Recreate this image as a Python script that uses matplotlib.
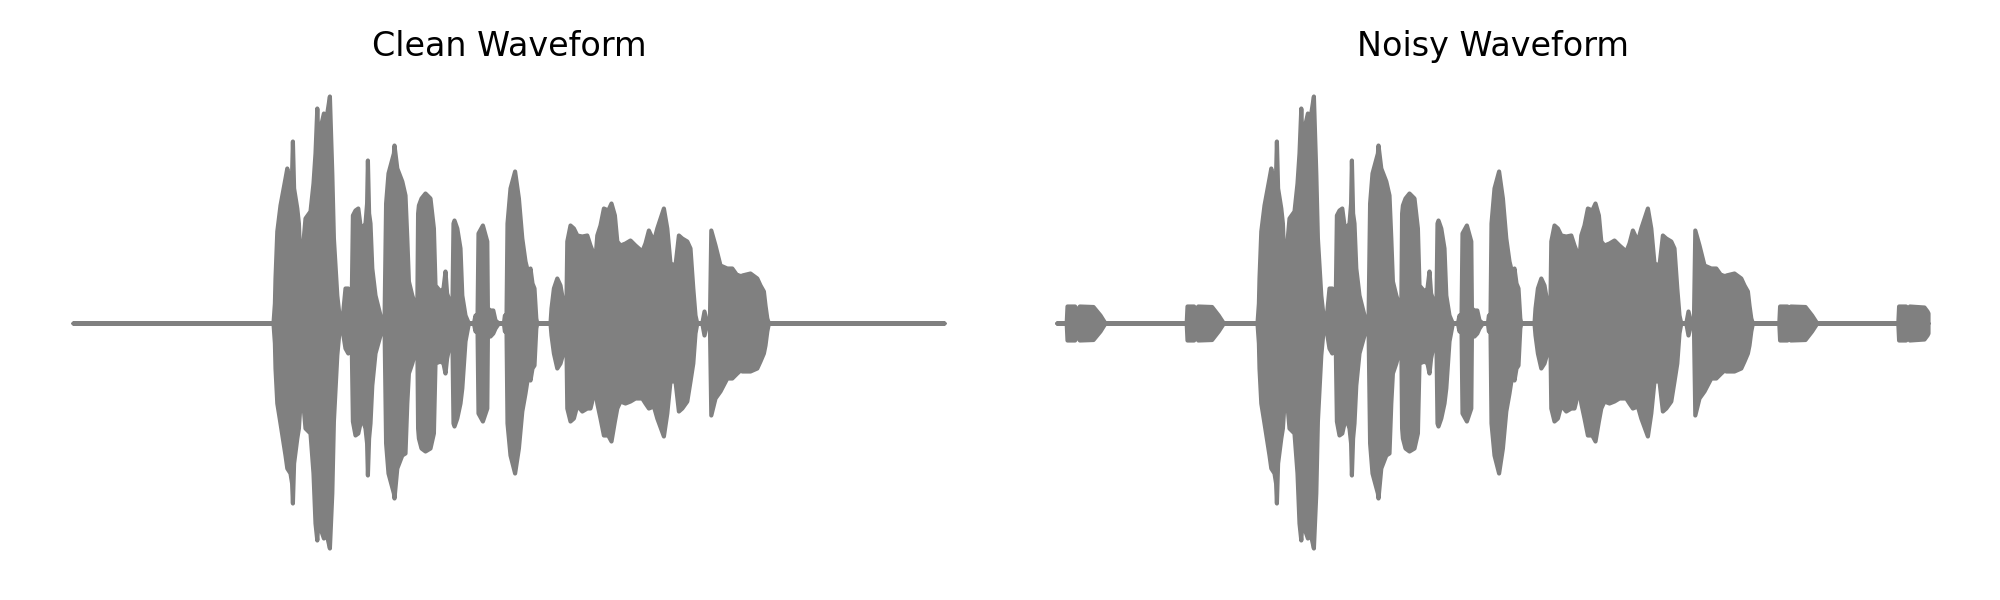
import numpy as np
import matplotlib
matplotlib.use("Agg")
import matplotlib.pyplot as plt

# ---- data: amplitude envelope of the waveforms (time in s, normalized amplitude) ----
clean_t = [0.000, 1.000, 1.007, 1.010, 1.019, 1.035, 1.060, 1.069, 1.085, 1.093,
           1.097, 1.103, 1.119, 1.127, 1.135, 1.140, 1.147, 1.160, 1.185, 1.200,
           1.210, 1.219, 1.225, 1.235, 1.252, 1.265, 1.282, 1.294, 1.302, 1.319,
           1.330, 1.340, 1.348, 1.360, 1.374, 1.383, 1.390, 1.397, 1.410, 1.424,
           1.435, 1.444, 1.460, 1.468, 1.472, 1.478, 1.485, 1.494, 1.510, 1.535,
           1.555, 1.563, 1.575, 1.602, 1.605, 1.619, 1.644, 1.660, 1.669, 1.677,
           1.694, 1.710, 1.719, 1.723, 1.727, 1.740, 1.760, 1.785, 1.802, 1.810,
           1.835, 1.850, 1.860, 1.868, 1.885, 1.894, 1.900, 1.905, 1.919, 1.935,
           1.944, 1.960, 1.977, 2.002, 2.010, 2.020, 2.025, 2.047, 2.069, 2.072,
           2.085, 2.099, 2.110, 2.127, 2.152, 2.157, 2.165, 2.170, 2.185, 2.208,
           2.227, 2.244, 2.260, 2.277, 2.285, 2.295, 2.305, 2.314, 2.319, 2.385,
           2.390, 2.402, 2.419, 2.435, 2.452, 2.457, 2.464, 2.469, 2.485, 2.502,
           2.519, 2.544, 2.569, 2.585, 2.610, 2.619, 2.635, 2.652, 2.674, 2.690,
           2.707, 2.719, 2.735, 2.760, 2.785, 2.810, 2.844, 2.860, 2.877, 2.902,
           2.919, 2.952, 2.969, 2.985, 3.010, 3.027, 3.044, 3.069, 3.085, 3.099,
           3.110, 3.119, 3.144, 3.155, 3.169, 3.182, 3.189, 3.210, 3.235, 3.269,
           3.294, 3.319, 3.330, 3.335, 3.344, 3.385, 3.419, 3.435, 3.452, 3.460,
           3.469, 3.477, 4.355]

clean_upper = [0, 0, .08, .18, .368, .472, .58, .62, .56, .60,
               .728, .54, .46, .40, .232, .22, .30, .42, .448, .56,
               .68, .86, .72, .78, .84, .82, .908, .60, .34, .112,
               .032, 0, .04, .14, .14, .06, .02, .432, .452, .46,
               .392, .38, .40, .48, .652, .44, .40, .22, .112, .032,
               0, .48, .60, .68, .712, .62, .568, .512, .34, .168,
               .112, .072, .06, .44, .472, .50, .52, .50, .38, .152,
               .128, .14, .208, .12, .08, .032, .40, .412, .38, .30,
               .112, .032, 0, 0, .032, .012, .36, .392, .328, .06,
               .052, .052, .012, 0, 0, .032, .02, .40, .54, .608,
               .50, .34, .248, .192, .22, .16, .14, .02, 0, 0,
               .06, .14, .18, .152, .072, .04, .04, .328, .392, .38,
               .352, .348, .352, .312, .26, .352, .392, .46, .452, .48,
               .432, .328, .312, .32, .332, .312, .288, .32, .372, .328,
               .38, .46, .38, .24, .232, .352, .34, .328, .30, .14,
               .032, 0, 0, .048, 0, 0, .372, .312, .232, .22,
               .22, .192, .192, .08, .192, .20, .18, .152, .128, .072,
               .02, 0, 0]

clean_lower = [0, 0, .08, .18, .32, .40, .528, .58, .60, .64,
               .72, .56, .46, .42, .32, .232, .30, .42, .44, .60,
               .80, .868, .78, .82, .86, .84, .90, .68, .392, .128,
               .032, 0, .04, .10, .12, .048, .02, .392, .448, .44,
               .40, .38, .42, .48, .608, .46, .40, .248, .12, .048,
               0, .48, .60, .68, .70, .58, .528, .52, .32, .20,
               .16, .112, .06, .42, .46, .50, .512, .50, .44, .16,
               .152, .16, .20, .14, .072, .032, .40, .412, .38, .32,
               .26, .072, 0, 0, .032, .012, .36, .392, .34, .052,
               .052, .04, .02, 0, 0, .032, .02, .40, .528, .60,
               .50, .352, .28, .192, .228, .18, .168, .02, 0, 0,
               .048, .12, .18, .16, .112, .072, .04, .34, .392, .38,
               .328, .352, .34, .34, .26, .32, .38, .448, .448, .472,
               .392, .34, .312, .32, .312, .30, .30, .32, .34, .332,
               .38, .452, .36, .232, .232, .352, .34, .312, .232, .16,
               .04, 0, 0, .048, 0, 0, .368, .30, .272, .22,
               .22, .20, .192, .08, .192, .192, .18, .152, .12, .088,
               .032, 0, 0]

# added noise bursts (symmetric envelope)
noise_t = [0.000,
           0.046, 0.050, 0.088, 0.092, 0.104, 0.108, 0.112, 0.180, 0.215, 0.240,
           0.646, 0.650, 0.683, 0.687, 0.696, 0.700, 0.704, 0.773, 0.806, 0.832,
           3.609, 3.613, 3.650, 3.654, 3.659, 3.663, 3.667, 3.740, 3.773, 3.799,
           4.204, 4.208, 4.243, 4.247, 4.254, 4.258, 4.262, 4.335, 4.350, 4.355]
noise_amp = [0,
             0, .068, .068, 0, 0, .064, .068, .066, .032, 0,
             0, .068, .068, 0, 0, .064, .068, .066, .032, 0,
             0, .068, .068, 0, 0, .064, .068, .066, .032, 0,
             0, .068, .068, 0, 0, .064, .068, .064, .048, .04]

titles = ["Clean Waveform", "Noisy Waveform"]
wave_color = "gray"

# ---- plotting ----
fig = plt.figure(figsize=(10, 3), dpi=200)
ax1 = fig.add_axes([0.015, 0.045, 0.479, 0.8333])
ax2 = fig.add_axes([0.507, 0.045, 0.479, 0.8333])

t = np.array(clean_t)
up = np.array(clean_upper)
lo = -np.array(clean_lower)
nt = np.array(noise_t)
na = np.array(noise_amp)

style = dict(facecolor=wave_color, edgecolor=wave_color, linewidth=1.5,
             joinstyle="round", capstyle="round")

ax1.fill_between(t, lo, up, **style)
ax2.fill_between(t, lo, up, **style)
ax2.fill_between(nt, -na, na, **style)

for ax, title in zip((ax1, ax2), titles):
    ax.set_xlim(-0.215, 4.575)
    ax.set_ylim(-1, 1)
    ax.set_title(title, fontsize=12)
    ax.axis("off")

fig.savefig("out.png", dpi=200, facecolor="white")
